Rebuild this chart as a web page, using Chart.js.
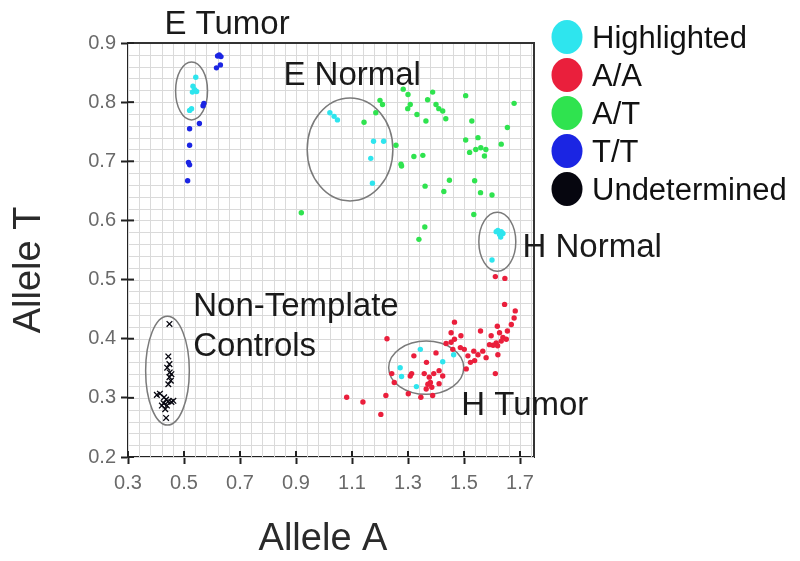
<!DOCTYPE html>
<html>
<head>
<meta charset="utf-8">
<script src="https://cdn.jsdelivr.net/npm/chart.js@4"></script>
<style>
  body { margin: 0; background: #fff; }
  #wrap { width: 800px; height: 561px; }
</style>
</head>
<body>
<div id="wrap"><canvas id="myChart"></canvas></div>
<script>
// series values (Allele A on x, Allele T on y)
const highlightedA = [0.542, 0.532, 0.538, 0.530, 0.545, 0.527, 0.520,
  1.021, 1.036, 1.048, 1.177, 1.213, 1.167, 1.173,
  1.621, 1.633, 1.627, 1.639, 1.615, 1.631, 1.600,
  1.344, 1.463, 1.424, 1.272, 1.277, 1.330];
const highlightedT = [0.842, 0.827, 0.821, 0.817, 0.818, 0.789, 0.786,
  0.782, 0.776, 0.770, 0.734, 0.734, 0.705, 0.663,
  0.583, 0.581, 0.576, 0.578, 0.581, 0.572, 0.533,
  0.382, 0.373, 0.361, 0.351, 0.336, 0.319];

const aaA = [1.612, 1.646, 1.645, 1.683, 1.679, 1.669, 1.619, 1.655, 1.627, 1.639, 1.651, 1.633,
  1.597, 1.615, 1.604, 1.620, 1.591, 1.559, 1.466, 1.454, 1.489, 1.466, 1.487, 1.501, 1.535,
  1.567, 1.579, 1.550, 1.514, 1.523, 1.538, 1.508, 1.612, 1.621, 1.225, 1.321, 1.366, 1.400,
  1.411, 1.424, 1.392, 1.358, 1.376, 1.380, 1.371, 1.385, 1.365, 1.411, 1.313, 1.308, 1.242,
  1.251, 1.221, 1.301, 1.346, 1.388, 1.203, 1.454, 1.460, 1.436, 1.081, 1.139];
const aaT = [0.505, 0.502, 0.458, 0.447, 0.435, 0.424, 0.421, 0.413, 0.410, 0.402, 0.399, 0.396,
  0.405, 0.393, 0.389, 0.388, 0.390, 0.413, 0.428, 0.410, 0.405, 0.399, 0.385, 0.382, 0.379,
  0.379, 0.368, 0.373, 0.371, 0.360, 0.363, 0.349, 0.341, 0.373, 0.400, 0.371, 0.360, 0.376,
  0.346, 0.337, 0.341, 0.341, 0.335, 0.326, 0.323, 0.318, 0.315, 0.324, 0.341, 0.337, 0.341,
  0.326, 0.304, 0.307, 0.301, 0.304, 0.272, 0.394, 0.382, 0.392, 0.301, 0.293];

const atA = [1.283, 1.300, 1.200, 1.209, 1.388, 1.370, 1.308, 1.299, 1.400, 1.410, 1.424, 1.506,
  1.679, 1.332, 1.435, 1.364, 1.185, 1.143, 1.528, 1.655, 1.506, 1.550, 1.633, 1.542, 1.560,
  1.578, 1.520, 1.573, 1.257, 1.353, 1.321, 1.275, 1.277, 1.448, 1.538, 1.428, 1.361, 1.559,
  1.600, 1.535, 0.919, 1.360, 1.339];
const atT = [0.822, 0.813, 0.803, 0.796, 0.817, 0.804, 0.796, 0.789, 0.796, 0.789, 0.785, 0.811,
  0.798, 0.779, 0.772, 0.768, 0.782, 0.766, 0.768, 0.757, 0.736, 0.740, 0.729, 0.720, 0.723,
  0.720, 0.715, 0.709, 0.727, 0.710, 0.708, 0.695, 0.692, 0.668, 0.667, 0.649, 0.658, 0.647,
  0.643, 0.610, 0.613, 0.589, 0.568];

const ttA = [0.626, 0.632, 0.620, 0.630, 0.616, 0.571, 0.568, 0.555, 0.520, 0.520, 0.516, 0.520, 0.513];
const ttT = [0.880, 0.877, 0.878, 0.863, 0.858, 0.798, 0.794, 0.764, 0.755, 0.727, 0.698, 0.694, 0.667];

const undA = [0.448, 0.444, 0.440, 0.449, 0.455, 0.448, 0.453, 0.444, 0.403, 0.414, 0.429, 0.436,
  0.444, 0.455, 0.427, 0.439, 0.421, 0.462, 0.433, 0.436, 0.448];
const undT = [0.425, 0.370, 0.351, 0.343, 0.340, 0.335, 0.329, 0.323, 0.305, 0.307, 0.301, 0.297,
  0.294, 0.293, 0.291, 0.287, 0.287, 0.295, 0.281, 0.266, 0.357];

const seriesNames = ["Highlighted", "A/A", "A/T", "T/T", "Undetermined"];
const xTicks = [0.3, 0.5, 0.7, 0.9, 1.1, 1.3, 1.5, 1.7];

// cluster labels and the ellipses round them, in data units
const groups = [
  { label: ["E Tumor"], cx: 0.527, cy: 0.819, rx: 0.057, ry: 0.049, tx: 0.43, ty: 0.930 },
  { label: ["E Normal"], cx: 1.093, cy: 0.720, rx: 0.153, ry: 0.087, tx: 0.855, ty: 0.845 },
  { label: ["H Normal"], cx: 1.619, cy: 0.564, rx: 0.066, ry: 0.050, tx: 1.709, ty: 0.554 },
  { label: ["Non-Template", "Controls"], cx: 0.441, cy: 0.346, rx: 0.078, ry: 0.092, tx: 0.533, ty: 0.453 },
  { label: ["H Tumor"], cx: 1.365, cy: 0.351, rx: 0.134, ry: 0.045, tx: 1.49, ty: 0.286 }
];

function zip(xs, ys) {
  return xs.map((x, i) => ({ x: x, y: ys[i] }));
}

const colores = ["#2ee5ee", "#ea1f3c", "#2fe34f", "#1b25e3", "#06060f"];
const FONT = "'Liberation Sans', Arial, Helvetica, sans-serif";

const framePlugin = {
  id: "frame",
  beforeDatasetsDraw(chart) {
    const { ctx, chartArea: a, scales } = chart;
    const xs = scales.x, ys = scales.y;
    ctx.save();
    ctx.strokeStyle = "#dadada";
    ctx.lineWidth = 1;
    for (let v = 0.3; v < 1.76; v += 0.04) {
      const px = Math.round(xs.getPixelForValue(v)) + 0.5;
      ctx.beginPath(); ctx.moveTo(px, a.top); ctx.lineTo(px, a.bottom); ctx.stroke();
    }
    for (let v = 0.2; v < 0.91; v += 0.02) {
      const py = Math.round(ys.getPixelForValue(v)) + 0.5;
      ctx.beginPath(); ctx.moveTo(a.left, py); ctx.lineTo(a.right, py); ctx.stroke();
    }
    // ellipses
    ctx.strokeStyle = "#7a7a7a";
    ctx.lineWidth = 1.5;
    groups.forEach(g => {
      const cx = xs.getPixelForValue(g.cx), cy = ys.getPixelForValue(g.cy);
      const rx = Math.abs(xs.getPixelForValue(g.cx + g.rx) - cx);
      const ry = Math.abs(ys.getPixelForValue(g.cy + g.ry) - cy);
      ctx.beginPath(); ctx.ellipse(cx, cy, rx, ry, 0, 0, Math.PI * 2); ctx.stroke();
    });
    ctx.restore();
  },
  afterDraw(chart) {
    const { ctx, chartArea: a, scales } = chart;
    const xs = scales.x, ys = scales.y;
    ctx.save();
    // top and right border
    ctx.strokeStyle = "#333";
    ctx.lineWidth = 2;
    ctx.beginPath();
    ctx.moveTo(a.left, a.top); ctx.lineTo(a.right, a.top); ctx.lineTo(a.right, a.bottom);
    ctx.stroke();
    // inner half of the tick marks
    ctx.strokeStyle = "#222";
    xTicks.forEach(v => {
      const px = xs.getPixelForValue(v);
      ctx.beginPath(); ctx.moveTo(px, a.bottom); ctx.lineTo(px, a.bottom - 6); ctx.stroke();
    });
    ys.ticks.forEach(t => {
      const py = ys.getPixelForValue(t.value);
      ctx.beginPath(); ctx.moveTo(a.left, py); ctx.lineTo(a.left + 6, py); ctx.stroke();
    });
    // cluster labels
    ctx.fillStyle = "#1a1a1a";
    ctx.font = "33px " + FONT;
    ctx.textBaseline = "middle";
    ctx.textAlign = "left";
    groups.forEach(g => {
      const tx = xs.getPixelForValue(g.tx), ty = ys.getPixelForValue(g.ty);
      g.label.forEach((line, i) => ctx.fillText(line, tx, ty + i * 40));
    });
    // axis titles
    ctx.fillStyle = "#2a2a2a";
    ctx.font = "38px " + FONT;
    ctx.textAlign = "center";
    ctx.fillText("Allele A", (a.left + a.right) / 2 - 8, 540);
    ctx.translate(30, (a.top + a.bottom) / 2 + 20);
    ctx.rotate(-Math.PI / 2);
    ctx.fillText("Allele T", 0, 0);
    ctx.restore();
    // legend
    ctx.save();
    ctx.font = "31px " + FONT;
    ctx.textBaseline = "middle";
    ctx.textAlign = "left";
    chart.data.datasets.forEach((ds, i) => {
      const y = 37 + i * 38;
      ctx.fillStyle = ds.legendColor;
      ctx.beginPath(); ctx.ellipse(567, y, 15.5, 17, 0, 0, Math.PI * 2); ctx.fill();
      ctx.fillStyle = "#111";
      ctx.fillText(ds.label, 592, y + 2);
    });
    ctx.restore();
  }
};

const config = {
  type: "scatter",
  data: {
    datasets: [
      { label: seriesNames[0], data: zip(highlightedA, highlightedT) },
      { label: seriesNames[1], data: zip(aaA, aaT) },
      { label: seriesNames[2], data: zip(atA, atT) },
      { label: seriesNames[3], data: zip(ttA, ttT) },
      { label: seriesNames[4], data: zip(undA, undT), pointStyle: "crossRot", pointRadius: 4, borderWidth: 1.3 }
    ].map((ds, i) => Object.assign({
      backgroundColor: colores[i],
      borderColor: colores[i],
      legendColor: colores[i],
      pointRadius: 2.7,
      borderWidth: 0
    }, ds))
  },
  options: {
    responsive: true,
    maintainAspectRatio: false,
    animation: false,
    layout: { padding: { top: 43, right: 266, left: 0, bottom: 0 } },
    plugins: { legend: { display: false }, tooltip: { enabled: false } },
    scales: {
      x: {
        type: "linear",
        min: 0.3,
        max: 1.75,
        afterBuildTicks: (scale) => { scale.ticks = xTicks.map(v => ({ value: v })); },
        afterFit: (scale) => { scale.height = 104; },
        grid: { drawOnChartArea: false, tickLength: 7, tickColor: "#222", tickWidth: 2 },
        border: { color: "#222", width: 2 },
        ticks: {
          color: "#6a6a6a",
          padding: 7,
          maxRotation: 0,
          font: { size: 20, family: FONT },
          callback: (v) => Number(v).toFixed(1)
        }
      },
      y: {
        type: "linear",
        min: 0.2,
        max: 0.9,
        afterFit: (scale) => { scale.width = 128; },
        grid: { drawOnChartArea: false, tickLength: 7, tickColor: "#222", tickWidth: 2 },
        border: { color: "#222", width: 2 },
        ticks: {
          stepSize: 0.1,
          color: "#6a6a6a",
          padding: 5,
          font: { size: 20, family: FONT },
          callback: (v) => Number(v).toFixed(1)
        }
      }
    }
  },
  plugins: [framePlugin]
};

new Chart(document.getElementById("myChart"), config);
</script>
</body>
</html>
